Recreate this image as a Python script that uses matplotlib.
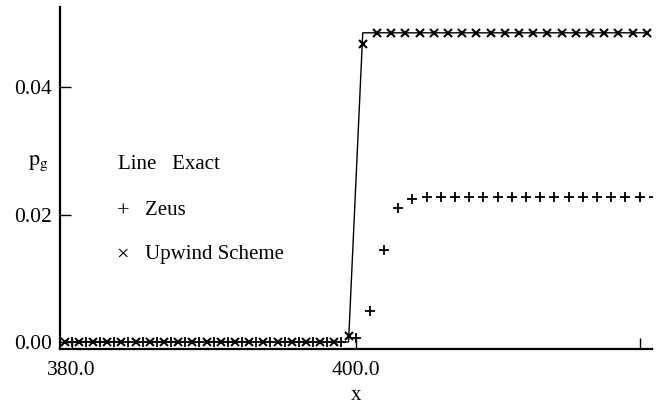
"""Exact vs Zeus vs Upwind scheme: p_g near x = 400"""
import numpy as np
import matplotlib
matplotlib.use('Agg')
import matplotlib.pyplot as plt

matplotlib.rcParams['font.family'] = ['Liberation Serif', 'DejaVu Serif']
matplotlib.rcParams['mathtext.fontset'] = 'stix'

# ---- data ----
# Upwind scheme / exact solution sit on half-integer cells
x_upwind = np.arange(379.5, 421.0, 1.0)
p_upwind = [0.0, 0.0, 0.0, 0.0, 0.0, 0.0, 0.0, 0.0, 0.0, 0.0,
            0.0, 0.0, 0.0, 0.0, 0.0, 0.0, 0.0, 0.0, 0.0, 0.0,
            0.0010, 0.0468,
            0.0485, 0.0485, 0.0485, 0.0485, 0.0485, 0.0485, 0.0485, 0.0485, 0.0485, 0.0485,
            0.0485, 0.0485, 0.0485, 0.0485, 0.0485, 0.0485, 0.0485, 0.0485, 0.0485, 0.0485]
p_exact = [0.0, 0.0, 0.0, 0.0, 0.0, 0.0, 0.0, 0.0, 0.0, 0.0,
           0.0, 0.0, 0.0, 0.0, 0.0, 0.0, 0.0, 0.0, 0.0, 0.0,
           0.0, 0.0485,
           0.0485, 0.0485, 0.0485, 0.0485, 0.0485, 0.0485, 0.0485, 0.0485, 0.0485, 0.0485,
           0.0485, 0.0485, 0.0485, 0.0485, 0.0485, 0.0485, 0.0485, 0.0485, 0.0485, 0.0485]

# Zeus on integer cells
x_zeus = np.arange(380, 422)
p_zeus = [0.0, 0.0, 0.0, 0.0, 0.0, 0.0, 0.0, 0.0, 0.0, 0.0,
          0.0, 0.0, 0.0, 0.0, 0.0, 0.0, 0.0, 0.0, 0.0, 0.0,
          0.0007, 0.0049, 0.0144, 0.0210, 0.0225,
          0.0228, 0.0228, 0.0228, 0.0228, 0.0228, 0.0228, 0.0228, 0.0228, 0.0228,
          0.0228, 0.0228, 0.0228, 0.0228, 0.0228, 0.0228, 0.0228, 0.0228]

x_ticks = [380, 400, 420]
x_ticklabels = ['380.0', '400.0', '']
y_ticks = [0.0, 0.02, 0.04]
y_ticklabels = ['0.00', '0.02', '0.04']

fig = plt.figure(figsize=(6.62, 4.15), dpi=100)
ax = fig.add_axes([0.0906, 0.1602, 0.8939, 0.8237])

ax.plot(x_upwind, p_exact, color='black', linewidth=1.0)
ax.plot(x_zeus, p_zeus, linestyle='none', marker='+', markersize=6.5,
        markeredgewidth=1.3, color='black')
ax.plot(x_upwind, p_upwind, linestyle='none', marker='x', markersize=5.5,
        markeredgewidth=1.5, color='black')

ax.set_xlim(379.18, 420.85)
ax.set_ylim(-0.00102, 0.0526)

for side in ['top', 'right']:
    ax.spines[side].set_visible(False)
for side in ['left', 'bottom']:
    ax.spines[side].set_linewidth(1.6)

ax.set_xticks(x_ticks)
ax.set_xticklabels(x_ticklabels)
ax.set_yticks(y_ticks)
ax.set_yticklabels(y_ticklabels)
ax.tick_params(direction='in', length=8, width=1.0, labelsize=15.5)
ax.tick_params(axis='x', pad=9)
ax.tick_params(axis='y', pad=6)

ax.set_xlabel('x', fontsize=15, labelpad=4)
ax.set_ylabel(r'$\mathrm{p_g}$', fontsize=16, rotation=0, ha='center', va='center')
ax.yaxis.set_label_coords(-0.037, 0.543)

# hand-made legend, as in the original
ax.text(0.0985, 0.537, 'Line   Exact', transform=ax.transAxes,
        fontsize=15, ha='left', va='center')
ax.text(0.106, 0.398, '+', transform=ax.transAxes,
        fontsize=16, ha='center', va='center')
ax.text(0.1437, 0.405, 'Zeus', transform=ax.transAxes,
        fontsize=15, ha='left', va='center')
ax.text(0.106, 0.2736, '\u00d7', transform=ax.transAxes,
        fontsize=16, ha='center', va='center')
ax.text(0.1437, 0.2736, 'Upwind Scheme', transform=ax.transAxes,
        fontsize=15, ha='left', va='center')

fig.savefig('out.png', dpi=100)
plt.close(fig)
